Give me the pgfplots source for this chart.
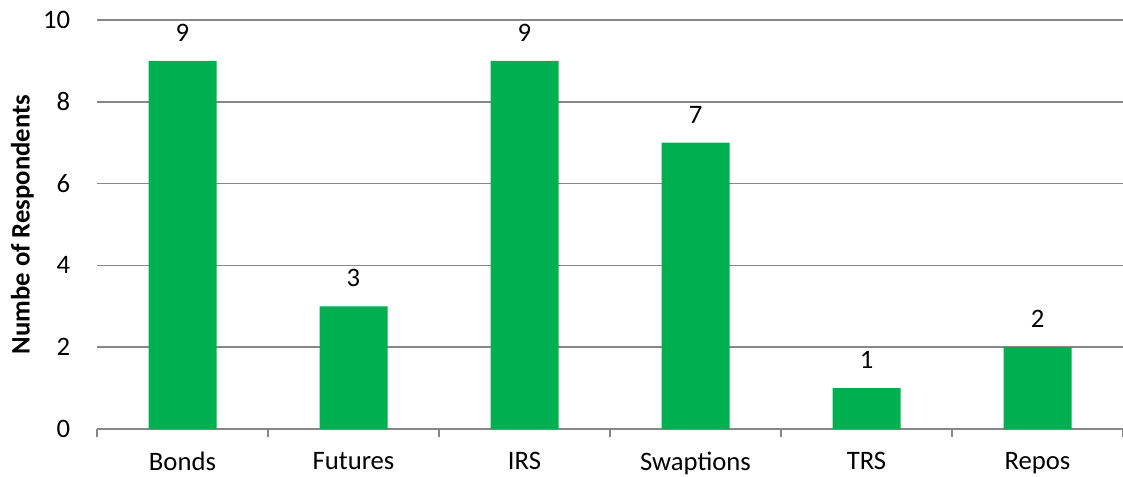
\documentclass[border=0pt]{standalone}
\usepackage{fontspec}
\setmainfont{Carlito}
\usepackage{pgfplots}
\pgfplotsset{compat=1.18}
\definecolor{barGreen}{HTML}{00B050}
\definecolor{gridGray}{HTML}{878787}
\begin{document}
\begin{tikzpicture}
\begin{axis}[
  scale only axis,
  width=769.5pt,
  height=306.75pt,
  ybar,
  bar width=51pt,
  xmin=-0.5, xmax=5.5,
  ymin=0, ymax=10,
  xtick={0,...,5},
  xticklabels={Bonds,Futures,IRS,Swaptions,TRS,Repos},
  minor xtick={-0.5,0.5,...,5.5},
  ytick={0,2,...,10},
  major tick length=0pt,
  minor tick length=6pt,
  tick align=outside,
  axis x line*=bottom,
  axis y line*=left,
  y axis line style={draw=none},
  x axis line style={draw=gridGray, line width=1.3pt},
  every minor tick/.style={draw=gridGray, line width=1.3pt},
  ymajorgrids=true,
  grid style={draw=gridGray, line width=1.3pt},
  tick label style={font=\fontsize{20}{22}\selectfont, inner sep=0pt},
  /pgf/number format/assume math mode=true,
  yticklabel style={anchor=east, xshift=-20pt},
  xticklabel style={anchor=north, yshift=-17pt},
  ylabel={\bfseries Numbe of Respondents},
  every axis y label/.style={at={(rel axis cs:0,0.5)}, xshift=-56pt, rotate=90, anchor=center, font=\fontsize{20}{22}\selectfont},
  nodes near coords,
  every node near coord/.append style={font=\fontsize{20}{22}\selectfont, inner sep=0pt, anchor=south, yshift=14.5pt},
  clip=false,
]
\addplot[fill=barGreen, draw=none] coordinates {(0,9) (1,3) (2,9) (3,7) (4,1) (5,2)};
\end{axis}
\pgfresetboundingbox
\useasboundingbox ([xshift=-72.75pt,yshift=-35.25pt]current axis.south west) rectangle ([yshift=15pt]current axis.north east);
\end{tikzpicture}
\end{document}
